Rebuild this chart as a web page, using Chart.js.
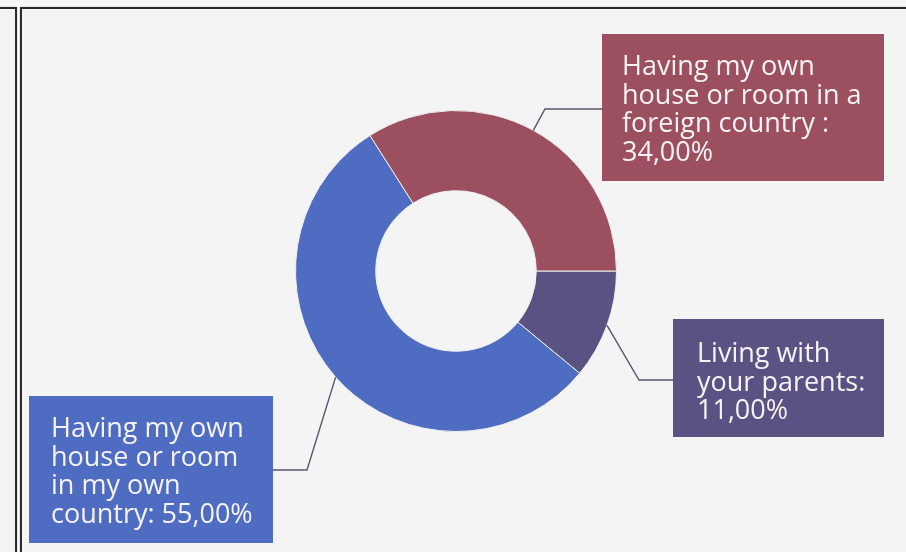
<!DOCTYPE html>
<html>
<head>
<meta charset="utf-8">
<script src="https://cdn.jsdelivr.net/npm/chart.js@4"></script>
<style>
  body { margin: 0; background: #f7f7f7; }
  #wrap { position: relative; width: 906px; height: 552px; overflow: hidden; }
  .side { position: absolute; left: -10px; top: 7px; width: 23px; height: 600px; border: 2px solid #2b2b2b; background: #f4f4f4; box-shadow: 0 0 1px #999; }
  .main { position: absolute; left: 20px; top: 7px; width: 900px; height: 600px; border: 2px solid #2b2b2b; background: #f4f4f4; box-shadow: 0 0 1px #999; }
  canvas { position: absolute; left: 0; top: 0; }
</style>
</head>
<body>
<div id="wrap">
  <div class="side"></div>
  <div class="main"></div>
  <canvas id="pie" width="906" height="552"></canvas>
</div>
<script>
// data, clockwise from 3 o'clock
var categories = ['Living with\nyour parents:\n', 'Having my own\nhouse or room\nin my own\ncountry: ', 'Having my own\nhouse or room in a\nforeign country :\n'];
var values = [11, 55, 34];
var colors = ['#5a5283', '#4f6cc3', '#9c4f5f'];

// label boxes (layout only)
var boxes = [
  { x: 673, y: 319, w: 211, h: 118, padX: 24, top: 43, knee: { x: 639, y: 380 }, side: 'left' },
  { x: 29, y: 396, w: 244, h: 147, padX: 22, top: 41, knee: { x: 307, y: 470 }, side: 'right' },
  { x: 602, y: 34, w: 282, h: 147, padX: 20, top: 41, knee: { x: 545, y: 109 }, side: 'left' }
];

function pct(v) {
  return v.toFixed(2).replace('.', ',') + '%';
}

var calloutPlugin = {
  id: 'callouts',
  afterDatasetsDraw: function (chart) {
    var ctx = chart.ctx;
    var meta = chart.getDatasetMeta(0);
    meta.data.forEach(function (arc, i) {
      var p = arc.getProps(['x', 'y', 'startAngle', 'endAngle', 'outerRadius'], true);
      var mid = (p.startAngle + p.endAngle) / 2;
      var sx = p.x + Math.cos(mid) * p.outerRadius;
      var sy = p.y + Math.sin(mid) * p.outerRadius;
      var b = boxes[i];
      var ex = b.side === 'left' ? b.x : b.x + b.w;
      ctx.save();
      ctx.strokeStyle = '#56566f';
      ctx.lineWidth = 1.4;
      ctx.beginPath();
      ctx.moveTo(sx, sy);
      ctx.lineTo(b.knee.x, b.knee.y);
      ctx.lineTo(ex, b.knee.y);
      ctx.stroke();

      ctx.fillStyle = colors[i];
      ctx.fillRect(b.x, b.y, b.w, b.h);
      ctx.fillStyle = '#f6f3f4';
      ctx.font = '27px "Open Sans", sans-serif';
      ctx.textBaseline = 'alphabetic';
      var lines = (categories[i] + pct(values[i])).split('\n');
      lines.forEach(function (line, j) {
        ctx.fillText(line, b.x + b.padX, b.y + b.top + j * 28.5);
      });
      ctx.restore();
    });
  }
};

new Chart(document.getElementById('pie').getContext('2d'), {
  type: 'doughnut',
  data: {
    labels: categories,
    datasets: [{
      data: values,
      backgroundColor: colors,
      borderColor: '#f0eef0',
      borderWidth: 1
    }]
  },
  options: {
    responsive: false,
    animation: false,
    rotation: 90,
    cutout: '50%',
    layout: { padding: { left: 295, right: 289, top: 110, bottom: 120 } },
    plugins: {
      legend: { display: false },
      tooltip: { enabled: false }
    }
  },
  plugins: [calloutPlugin]
});
</script>
</body>
</html>
